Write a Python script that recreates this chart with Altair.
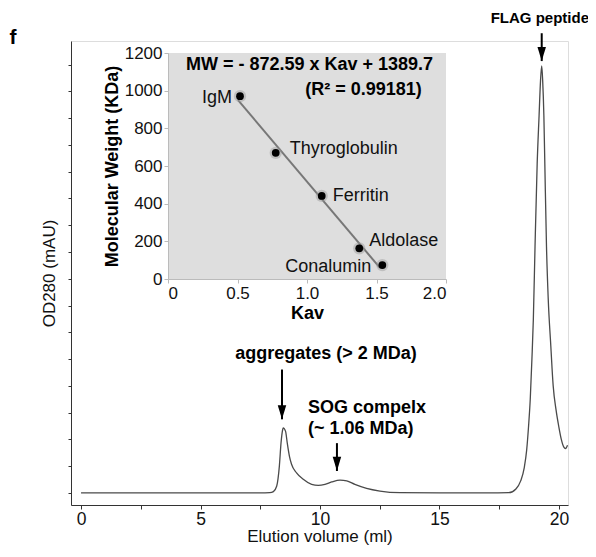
import altair as alt
import pandas as pd

FONT = "Liberation Sans"

# ---------------- main chromatogram trace ----------------
vol = [0.0, 2.0, 4.0, 6.0, 7.5, 7.9, 8.05, 8.19, 8.30, 8.37, 8.44, 8.46, 8.56, 8.63,
       8.72, 8.81, 9.02, 9.30, 9.65, 9.93, 10.21, 10.49, 10.84, 11.12, 11.46, 11.95,
       12.51, 13.35, 15.0, 17.0, 17.9, 18.2, 18.4, 18.55, 18.65, 18.73, 18.8, 18.87,
       18.93, 19.0, 19.09, 19.17, 19.23, 19.28, 19.32, 19.37, 19.41, 19.48, 19.55,
       19.66, 19.76, 19.88, 20.0, 20.1, 20.2, 20.28, 20.36]
od = [0.0, 0.0, 0.0, 0.0, 0.0, 0.01, 0.05, 0.26, 1.0, 1.87, 2.37, 2.43, 2.30, 1.87,
      1.38, 1.07, 0.75, 0.51, 0.32, 0.28, 0.32, 0.41, 0.48, 0.45, 0.32, 0.17,
      0.07, 0.01, 0.0, 0.0, 0.01, 0.15, 0.45, 0.95, 1.6, 2.5, 3.5, 5.0,
      6.5, 9.2, 12.3, 14.1, 15.4, 15.95, 15.4, 14.1, 12.3, 9.2, 7.3,
      5.5, 4.0, 3.1, 2.45, 2.0, 1.72, 1.66, 1.78]

# annotation arrows (elution volume, top, tip)
arrow_x = [8.41, 10.71, 19.28]
arrow_top = [4.61, 1.86, 17.17]
arrow_tip = [2.75, 0.82, 16.13]

# annotation labels
ann_text = ["aggregates (> 2 MDa)", "SOG compelx", "(~ 1.06 MDa)", "FLAG peptide"]
ann_x = [10.25, 9.5, 9.5, 19.2]
ann_y = [5.2, 3.16, 2.38, 17.73]

# ---------------- inset calibration curve ----------------
names = ["IgM", "Thyroglobulin", "Ferritin", "Aldolase", "Conalumin"]
kav = [0.518, 0.775, 1.106, 1.376, 1.542]
mw = [971, 670, 441, 163, 74]
SLOPE, INTERCEPT = -872.59, 1389.7
fit_kav = [0.504, 1.525]

X_DOMAIN = [-0.42, 20.38]
Y_DOMAIN = [-0.45, 16.88]
X_TICKS = [0, 2.5, 5, 7.5, 10, 12.5, 15, 17.5, 20]
Y_TICKS = list(range(0, 17))
INSET_X_DOMAIN = [0, 2]
INSET_Y_DOMAIN = [0, 1200]
INSET_X_TICKS = [0, 0.5, 1.0, 1.5, 2.0]
INSET_Y_TICKS = [0, 200, 400, 600, 800, 1000, 1200]

W, H = 497, 464
INSET_LEFT, INSET_RIGHT, INSET_TOP, INSET_BOTTOM = 97, 375, 12, 238

# ---------------- main chart ----------------
xs = alt.Scale(domain=X_DOMAIN, nice=False, zero=False)
ys = alt.Scale(domain=Y_DOMAIN, nice=False, zero=False)
x_axis = alt.Axis(values=X_TICKS, orient="bottom",
                  labelExpr="datum.value % 5 === 0 ? format(datum.value, 'd') : ''",
                  title="Elution volume (ml)", grid=False, domainColor="#333",
                  tickColor="#333", tickSize=4, labelFontSize=17.5, titleFontSize=17,
                  titleFontWeight="normal", labelPadding=1, titlePadding=1,
                  labelColor="#111", titleColor="#111", labelFont=FONT, titleFont=FONT)
y_axis = alt.Axis(values=Y_TICKS, orient="left", labels=False, title="OD280 (mAU)",
                  grid=False, domainColor="#333", tickColor="#333", tickSize=3,
                  titleFontSize=17, titleFontWeight="normal", titlePadding=9,
                  titleColor="#111", titleFont=FONT)
X = alt.X("x:Q", scale=xs, axis=x_axis)
Y = alt.Y("y:Q", scale=ys, axis=y_axis)

trace_df = pd.DataFrame({"x": vol, "y": od})
trace = alt.Chart(trace_df).mark_line(color="#4a4a4a", strokeWidth=1.3,
                                      interpolate="monotone").encode(x=X, y=Y)

arrow_df = pd.DataFrame({"x": arrow_x, "y": arrow_top, "y2": arrow_tip})
rules = alt.Chart(arrow_df).mark_rule(color="black", strokeWidth=2).encode(
    x=X, y=Y, y2="y2:Q")
head_df = pd.DataFrame({"x": arrow_x, "y": arrow_tip})
heads = alt.Chart(head_df).mark_point(
    shape="M-0.3,-1L0.3,-1L0,0Z", filled=True, size=800, color="black",
    opacity=1, strokeWidth=0).encode(x=X, y=Y)

ann_df = pd.DataFrame({"x": ann_x, "y": ann_y, "t": ann_text})
ann_center = alt.Chart(ann_df).transform_filter(
    "datum.t === 'aggregates (> 2 MDa)'").mark_text(
    font=FONT, fontSize=18, fontWeight="bold", align="center", baseline="middle",
    color="black").encode(x=X, y=Y, text="t:N")
ann_left = alt.Chart(ann_df).transform_filter(
    "datum.t === 'SOG compelx' || datum.t === '(~ 1.06 MDa)'").mark_text(
    font=FONT, fontSize=18, fontWeight="bold", align="left", baseline="middle",
    color="black").encode(x=X, y=Y, text="t:N")
ann_flag = alt.Chart(ann_df).transform_filter(
    "datum.t === 'FLAG peptide'").mark_text(
    font=FONT, fontSize=15, fontWeight="bold", align="center", baseline="middle",
    color="black").encode(x=X, y=Y, text="t:N")

panel = alt.Chart(pd.DataFrame({"t": ["f"]})).mark_text(
    font=FONT, fontSize=21, fontWeight="bold", align="center", baseline="middle",
    color="black").encode(x=alt.value(-58), y=alt.value(-3), text="t:N")

main = alt.layer(trace, rules, heads, ann_center, ann_left, ann_flag, panel)

# ---------------- inset ----------------
ixs = alt.Scale(domain=INSET_X_DOMAIN, range=[INSET_LEFT, INSET_RIGHT], nice=False, zero=False)
iys = alt.Scale(domain=INSET_Y_DOMAIN, range=[INSET_BOTTOM, INSET_TOP], nice=False, zero=False)
ix_axis = alt.Axis(values=INSET_X_TICKS, orient="bottom", offset=INSET_BOTTOM - H,
                   labelExpr="datum.value === 0 ? '0' : format(datum.value, '.1f')",
                   title="Kav", grid=False, domainColor="#bbbbbb", tickColor="#bbbbbb",
                   tickSize=4, labelFontSize=17, titleFontSize=18, titleFontWeight="bold",
                   labelPadding=2, titlePadding=3, labelColor="#111", titleColor="black",
                   labelFont=FONT, titleFont=FONT, zindex=1)
iy_axis = alt.Axis(values=INSET_Y_TICKS, orient="left", offset=-INSET_LEFT, format="d",
                   title="Molecular Weight (KDa)", grid=False, domainColor="#bbbbbb",
                   tickColor="#bbbbbb", tickSize=4, labelFontSize=17, titleFontSize=18,
                   titleFontWeight="bold", labelPadding=2, titlePadding=3,
                   labelColor="#111", titleColor="black", labelFont=FONT,
                   titleFont=FONT, zindex=1)
IX = alt.X("kav:Q", scale=ixs, axis=ix_axis)
IY = alt.Y("mw:Q", scale=iys, axis=iy_axis)

bg_df = pd.DataFrame({"kav": [INSET_X_DOMAIN[0]], "kav2": [INSET_X_DOMAIN[1]],
                      "mw": [INSET_Y_DOMAIN[0]], "mw2": [INSET_Y_DOMAIN[1]]})
bg = alt.Chart(bg_df).mark_rect(color="#dedede").encode(
    x=IX, x2="kav2:Q", y=IY, y2="mw2:Q")

fit_df = pd.DataFrame({"kav": fit_kav})
fit = alt.Chart(fit_df).transform_calculate(
    mw=f"{SLOPE} * datum.kav + {INTERCEPT}").mark_line(
    color="#777777", strokeWidth=2).encode(x=IX, y=IY)

pts_df = pd.DataFrame({"kav": kav, "mw": mw, "name": names})
halo = alt.Chart(pts_df).mark_circle(size=150, color="#9a9a9a", opacity=0.45).encode(
    x=IX, y=IY)
dots = alt.Chart(pts_df).mark_circle(size=60, color="black", opacity=1).encode(
    x=IX, y=IY)

label_style = {
    "IgM": dict(align="right", dx=-8, dy=2),
    "Thyroglobulin": dict(align="left", dx=14, dy=-4),
    "Ferritin": dict(align="left", dx=11, dy=0),
    "Aldolase": dict(align="left", dx=10, dy=-7),
    "Conalumin": dict(align="right", dx=-11, dy=2),
}
labels = [
    alt.Chart(pts_df).transform_filter(f"datum.name === '{n}'").mark_text(
        font=FONT, fontSize=18, baseline="middle", color="#111", **st).encode(
        x=IX, y=IY, text="name:N")
    for n, st in label_style.items()
]

eq_df = pd.DataFrame({"kav": [1.018, 1.406], "mw": [1136, 1003],
                      "t": ["MW = - 872.59 x Kav + 1389.7", "(R² = 0.99181)"]})
eq = alt.Chart(eq_df).mark_text(font=FONT, fontSize=18, fontWeight="bold",
                                align="center", baseline="middle",
                                color="black").encode(x=IX, y=IY, text="t:N")

inset = alt.layer(bg, fit, halo, dots, *labels, eq)

chart = alt.layer(main, inset).resolve_scale(
    x="independent", y="independent").resolve_axis(
    x="independent", y="independent").properties(
    width=W, height=H,
    padding={"left": 63, "top": 33, "right": 20, "bottom": 44},
    autosize=alt.AutoSizeParams(type="none"),
    background="white",
).configure_view(stroke=None).configure(font=FONT)

chart.save("out.html", embed_options={"renderer": "svg", "actions": False})
